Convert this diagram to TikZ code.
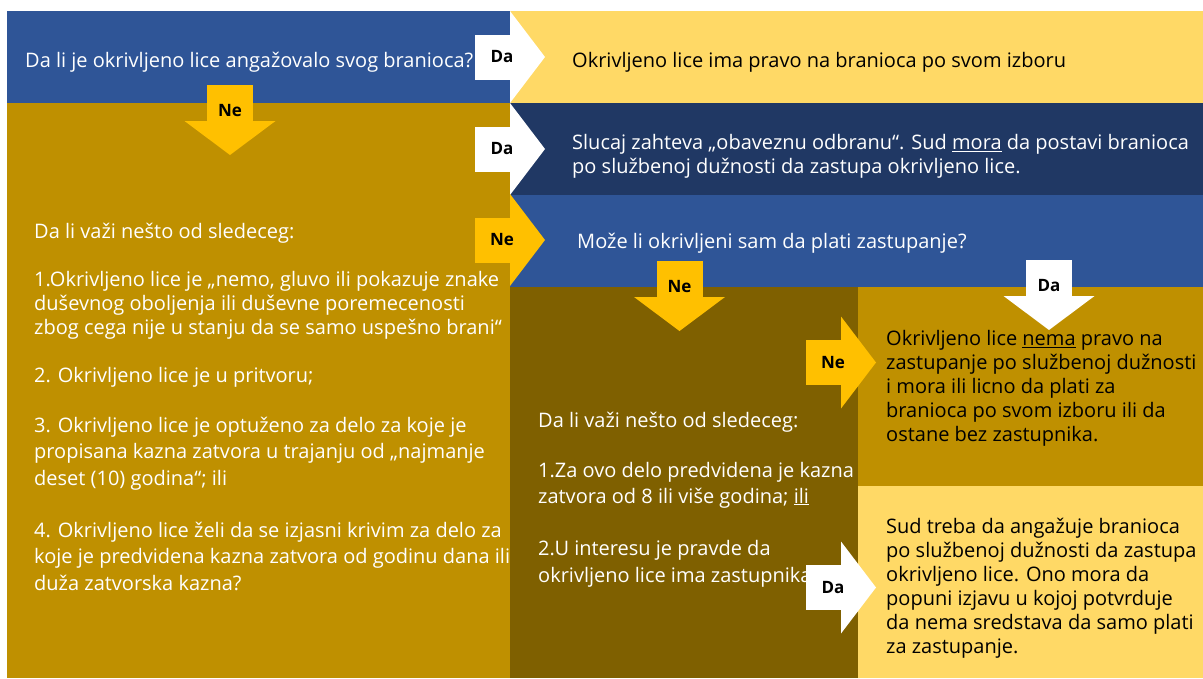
\documentclass[tikz,border=0pt]{standalone}
\usepackage{fontspec}
\setmainfont{Open Sans}
\definecolor{qblue}{HTML}{2F5597}
\definecolor{qnavy}{HTML}{203864}
\definecolor{qgold}{HTML}{BF9000}
\definecolor{qolive}{HTML}{7F6000}
\definecolor{qsand}{HTML}{FFD966}
\definecolor{qamber}{HTML}{FFC000}

\begin{document}
\begin{tikzpicture}[x=1pt, y=-1pt,
  txt/.style={anchor=north west, inner sep=0pt, align=left, font=\fontsize{20}{24}\selectfont},
  lbl/.style={inner sep=0pt, font=\fontsize{17}{20}\selectfont\bfseries},
  pics/rarr/.style n args={2}{code={
    \fill[#1] (-35,-22.5) rectangle (0,22.5);
    \fill[#1] (0,-46) -- (35,0) -- (0,46) -- cycle;
    \node[lbl] (-t) at (-8,0) {#2};
  }},
  pics/darr/.style n args={2}{code={
    \fill[#1] (-23,-36) rectangle (23,0);
    \fill[#1] (-45.5,0) -- (0,34) -- (45.5,0) -- cycle;
    \node[lbl] (-t) at (0,-10) {#2};
  }}
]
\useasboundingbox (0,0) rectangle (1203,678);

% boxes
\fill[qblue] (7,11) rectangle (510,103);
\fill[qsand] (510,11) rectangle (1203,103);
\fill[qgold] (7,103) rectangle (510,678);
\fill[qnavy] (510,103) rectangle (1203,195);
\fill[qblue] (510,195) rectangle (1203,287);
\fill[qolive] (510,287) rectangle (858,678);
\fill[qgold] (858,287) rectangle (1203,486);
\fill[qsand] (858,486) rectangle (1203,678);

% arrows
\pic (da1) at (510,57) {rarr={white}{Da}};
\pic (da2) at (510,149) {rarr={white}{Da}};
\pic (ne3) at (510,240) {rarr={qamber}{Ne}};
\pic (ne1) at (230,121) {darr={qamber}{Ne}};
\pic (ne4) at (679.5,297) {darr={qamber}{Ne}};
\pic (da4) at (1049,296) {darr={white}{Da}};
\pic (ne5) at (841,362.5) {rarr={qamber}{Ne}};
\pic (da5) at (841,587.5) {rarr={white}{Da}};

% texts
\node[txt, white] (askcounsel) at (25,50.2) {\strut Da li je okrivljeno lice angažovalo svog branioca?};
\node[txt] (ownchoice) at (572,50.2) {\strut Okrivljeno lice ima pravo na branioca po svom izboru};
\node[txt, white] (mandatory) at (572,132.2) {\strut Slucaj zahteva „obaveznu odbranu“. Sud \underline{mora} da postavi branioca\\po službenoj dužnosti da zastupa okrivljeno lice.};
\node[txt, white] (canpay) at (577,231.2) {\strut Može li okrivljeni sam da plati zastupanje?};

\node[txt, white] (cond0) at (34,221.2) {\strut Da li važi nešto od sledeceg:};
\node[txt, white] (cond1) at (34,269.2) {\strut 1.Okrivljeno lice je „nemo, gluvo ili pokazuje znake\\duševnog oboljenja ili duševne poremecenosti\\zbog cega nije u stanju da se samo uspešno brani“};
\node[txt, white] (cond2) at (34,365.2) {\strut 2. Okrivljeno lice je u pritvoru;};
\node[txt, white] (cond3) at (34,415.2) {\strut 3. Okrivljeno lice je optuženo za delo za koje je\\[2.5pt]propisana kazna zatvora u trajanju od „najmanje\\[2.5pt]deset (10) godina“; ili};
\node[txt, white] (cond4) at (34,520.2) {\strut 4. Okrivljeno lice želi da se izjasni krivim za delo za\\[2.5pt]koje je predvidena kazna zatvora od godinu dana ili\\[2.5pt]duža zatvorska kazna?};

\node[txt, white] (crit0) at (538,410.2) {\strut Da li važi nešto od sledeceg:};
\node[txt, white] (crit1) at (538,460.2) {\strut 1.Za ovo delo predvidena je kazna\\[2pt]zatvora od 8 ili više godina; \underline{ili}};
\node[txt, white] (crit2) at (538,538.2) {\strut 2.U interesu je pravde da\\[3pt]okrivljeno lice ima zastupnika};

\node[txt] (nolegal) at (886,328.2) {\strut Okrivljeno lice \underline{nema} pravo na\\zastupanje po službenoj dužnosti\\i mora ili licno da plati za\\branioca po svom izboru ili da\\ostane bez zastupnika.};
\node[txt] (courtappoints) at (886,516.2) {\strut Sud treba da angažuje branioca\\po službenoj dužnosti da zastupa\\okrivljeno lice. Ono mora da\\popuni izjavu u kojoj potvrduje\\da nema sredstava da samo plati\\za zastupanje.};
\end{tikzpicture}
\end{document}
